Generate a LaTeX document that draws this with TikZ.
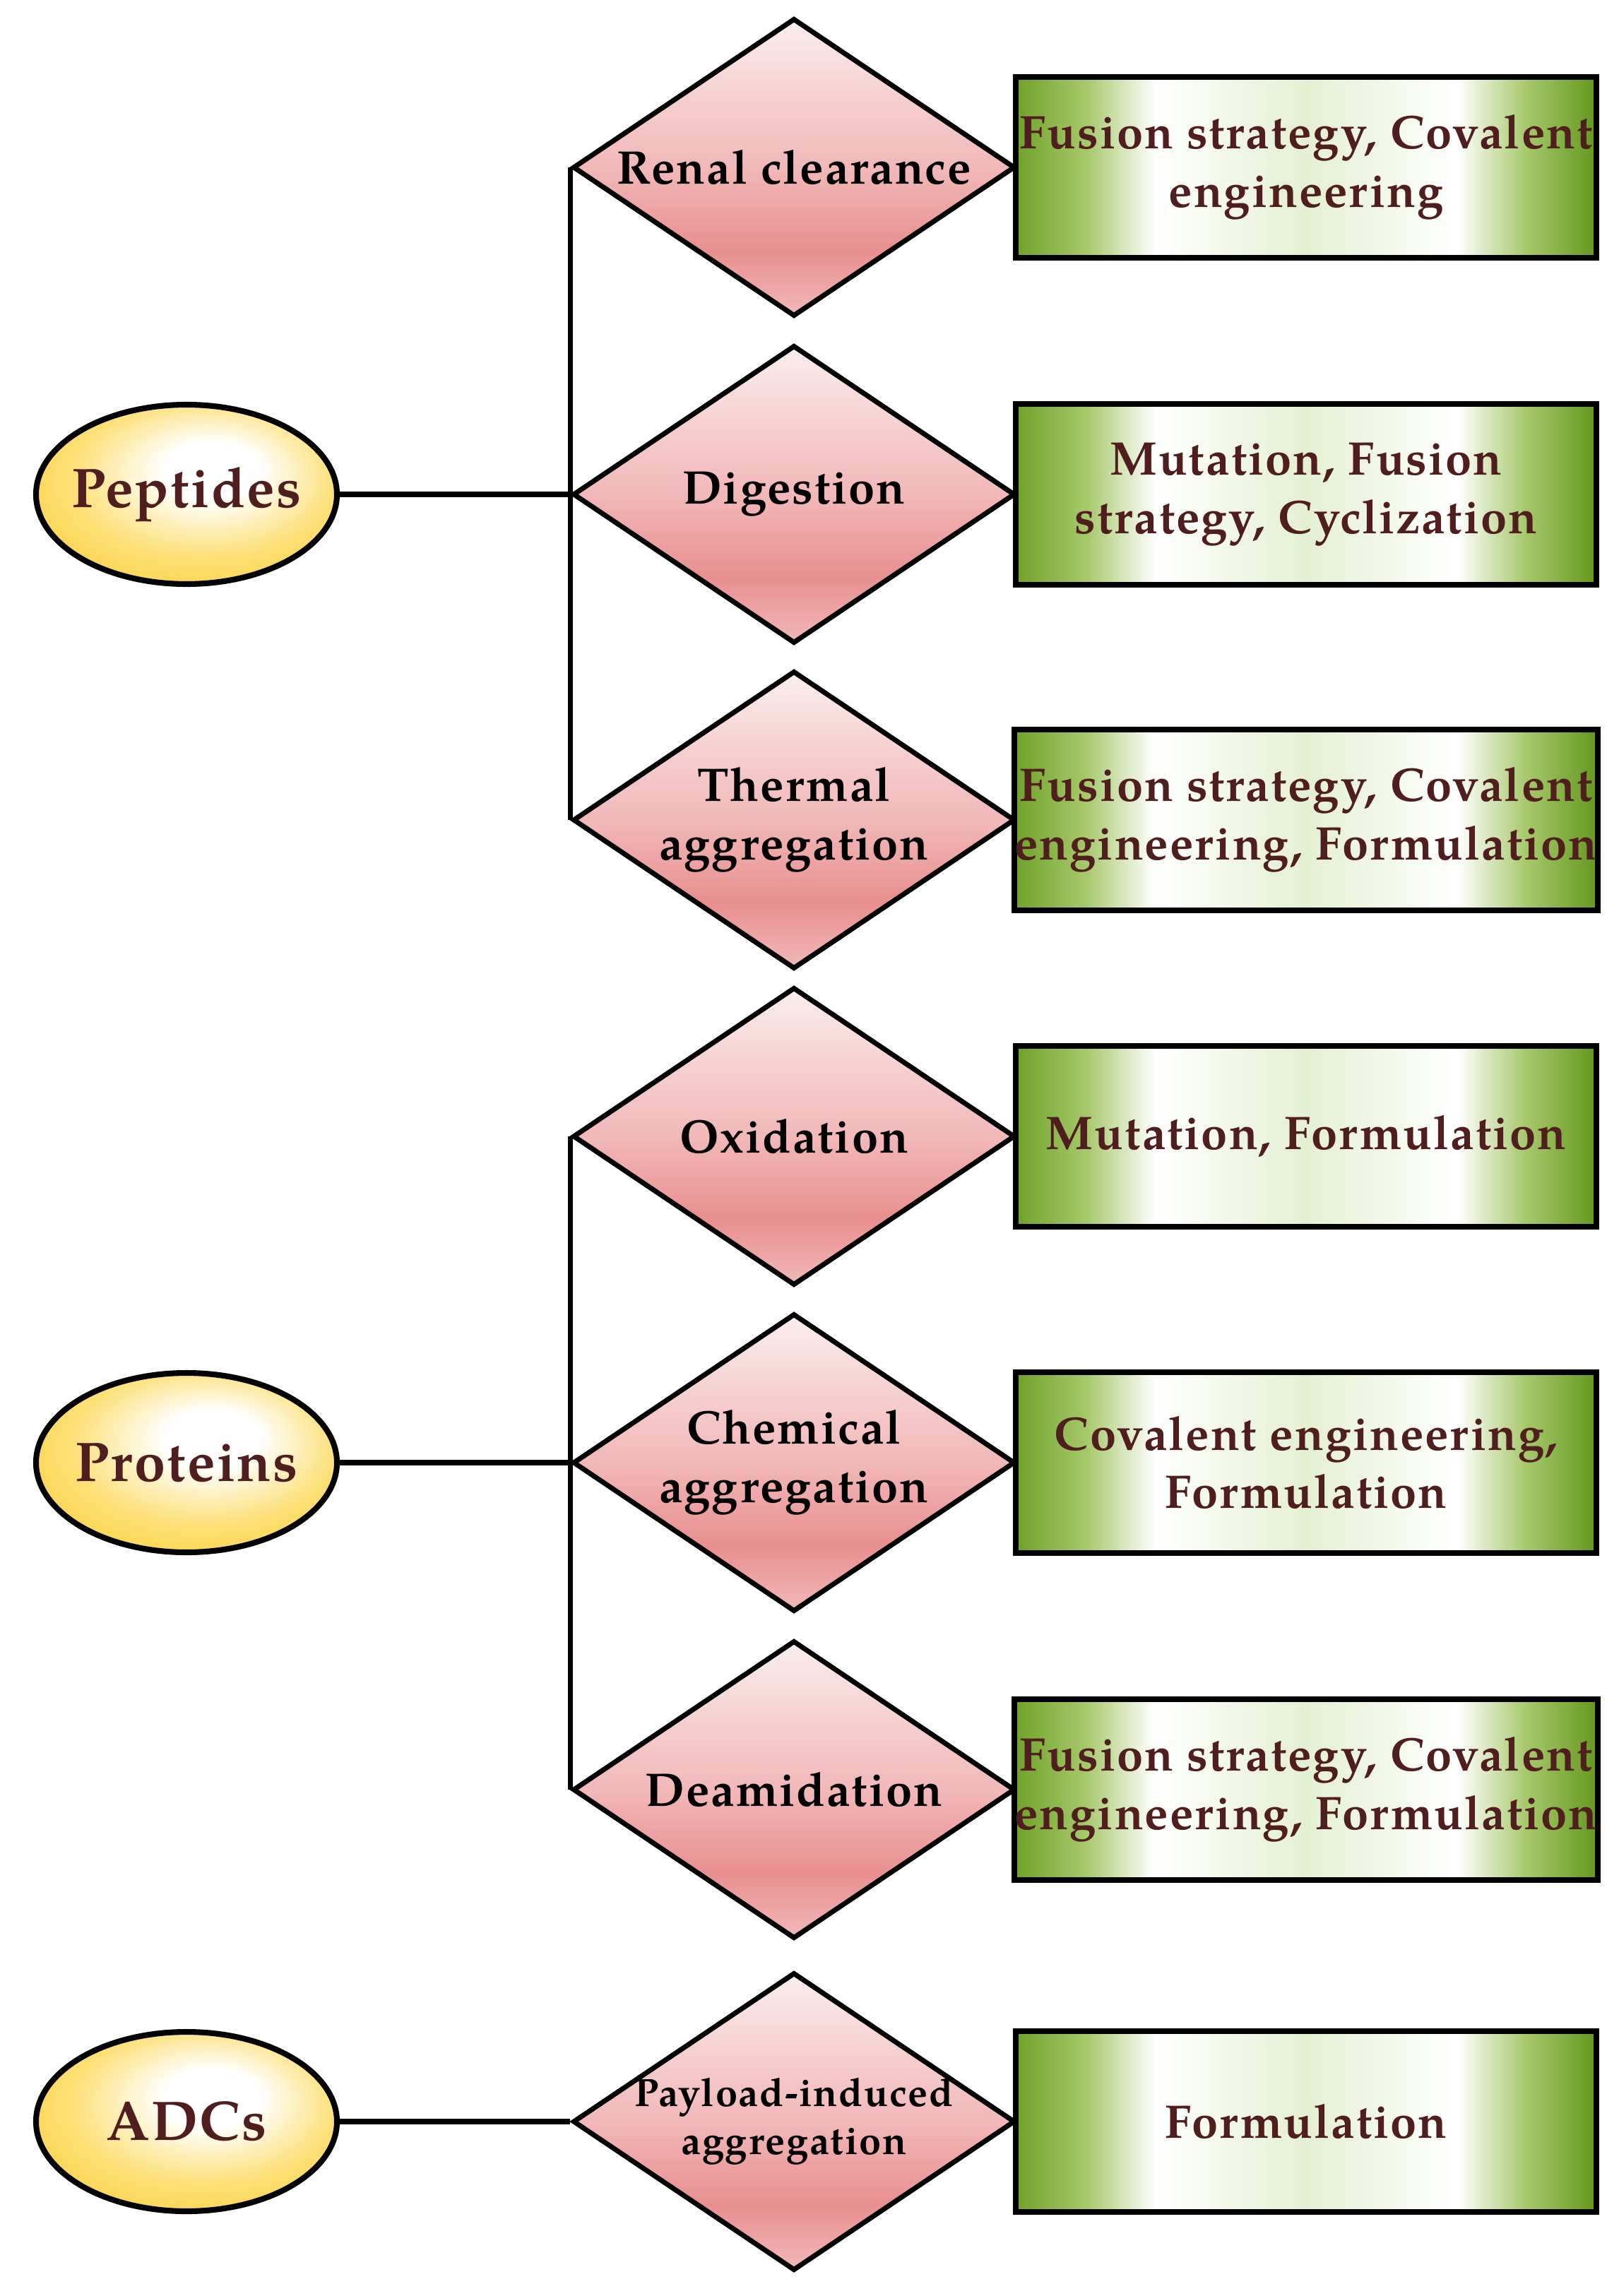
\documentclass[tikz,border=0pt]{standalone}
\usepackage{fontspec}
\setmainfont{TeX Gyre Pagella}[LetterSpace=3]
\usetikzlibrary{shapes.geometric}
\definecolor{txtbrown}{RGB}{80,30,30}
\definecolor{diaT}{RGB}{251,238,238}
\definecolor{diaU}{RGB}{246,208,208}
\definecolor{diaM}{RGB}{242,184,184}
\definecolor{diaD}{RGB}{233,143,143}
\definecolor{diaB}{RGB}{242,184,184}
\definecolor{ellY}{RGB}{253,224,120}
\definecolor{ellYd}{RGB}{251,210,70}
\definecolor{grA}{RGB}{112,162,42}
\definecolor{grB}{RGB}{165,200,105}
\definecolor{grC}{RGB}{228,240,210}
\definecolor{grD}{RGB}{100,152,30}
\pgfdeclareverticalshading{diashade}{100bp}{color(0bp)=(diaB); color(25bp)=(diaB); color(36bp)=(diaD); color(50bp)=(diaM); color(62bp)=(diaU); color(75bp)=(diaT); color(100bp)=(diaT)}
\pgfdeclareradialshading{ellshade}{\pgfpoint{5bp}{8bp}}{color(0bp)=(white); color(8bp)=(white); color(22bp)=(ellY); color(32bp)=(ellYd); color(50bp)=(ellYd)}
\pgfdeclarehorizontalshading{boxshade}{100bp}{color(0bp)=(grA); color(25bp)=(grA); color(31bp)=(grB); color(37bp)=(white); color(50bp)=(grC); color(63bp)=(white); color(69bp)=(grB); color(75bp)=(grD); color(100bp)=(grD)}
\tikzset{
  ell/.style={ellipse, draw, line width=2.3pt, minimum width=4.26cm, minimum height=2.54cm, inner sep=0pt, shade, shading=ellshade},
  etxt/.style={inner sep=0pt, text=txtbrown, font=\fontsize{22.5}{27}\selectfont\bfseries},
  dia/.style={diamond, draw, line width=2pt, minimum width=6.26cm, minimum height=4.22cm, inner sep=0pt, shade, shading=diashade},
  dtxt/.style={align=center, inner sep=0pt, text=black, font=\fontsize{19}{23.5}\selectfont\bfseries},
  ptxt/.style={align=center, inner sep=0pt, text=black, font=\fontsize{15.9}{19.3}\selectfont\bfseries},
  box/.style={rectangle, draw, line width=2.3pt, minimum width=8.22cm, minimum height=2.56cm, inner sep=0pt, shade, shading=boxshade, align=center, text=txtbrown, font=\fontsize{19}{23.5}\selectfont\bfseries},
  conn/.style={line width=2.1pt}
}
\begin{document}
\begin{tikzpicture}
\useasboundingbox (0,0) rectangle (22.91,-32.51);
% ellipses
\node[ell] (pep) at (2.64,-7.00) {};
\node[ell] (pro) at (2.64,-20.71) {};
\node[ell] (adc) at (2.64,-30.04) {};
\node[etxt] (pept) at (pep) {Peptides};
\node[etxt] (prot) at (pro) {Proteins};
\node[etxt] (adct) at (adc) {ADCs};
% diamonds
\node[dia] (d1) at (11.24,-2.37) {};
\node[dia] (d2) at (11.24,-7.00) {};
\node[dia] (d3) at (11.24,-11.61) {};
\node[dia] (d4) at (11.24,-16.09) {};
\node[dia] (d5) at (11.24,-20.71) {};
\node[dia] (d6) at (11.24,-25.34) {};
\node[dia] (d7) at (11.24,-30.04) {};
\node[dtxt] (t1) at (d1) {Renal clearance};
\node[dtxt] (t2) at (d2) {Digestion};
\node[dtxt] (t3) at (d3) {Thermal\\aggregation};
\node[dtxt] (t4) at (d4) {Oxidation};
\node[dtxt] (t5) at (d5) {Chemical\\aggregation};
\node[dtxt] (t6) at (d6) {Deamidation};
\node[ptxt] (t7) at (d7) {Payload-induced\\aggregation};
% boxes
\node[box] (b1) at (18.49,-2.37) {Fusion strategy, Covalent\\engineering};
\node[box] (b2) at (18.49,-7.00) {Mutation, Fusion\\strategy, Cyclization};
\node[box] (b3) at (18.49,-11.61) {Fusion strategy, Covalent\\engineering, Formulation};
\node[box] (b4) at (18.49,-16.09) {Mutation, Formulation};
\node[box] (b5) at (18.49,-20.71) {Covalent engineering,\\Formulation};
\node[box] (b6) at (18.49,-25.34) {Fusion strategy, Covalent\\engineering, Formulation};
\node[box] (b7) at (18.49,-30.04) {Formulation};
% connectors
\draw[conn] (pep.east) -- (d2.west);
\draw[conn] (d1.west) -- (d3.west);
\draw[conn] (pro.east) -- (d5.west);
\draw[conn] (d4.west) -- (d6.west);
\draw[conn] (adc.east) -- (d7.west);
\end{tikzpicture}
\end{document}
